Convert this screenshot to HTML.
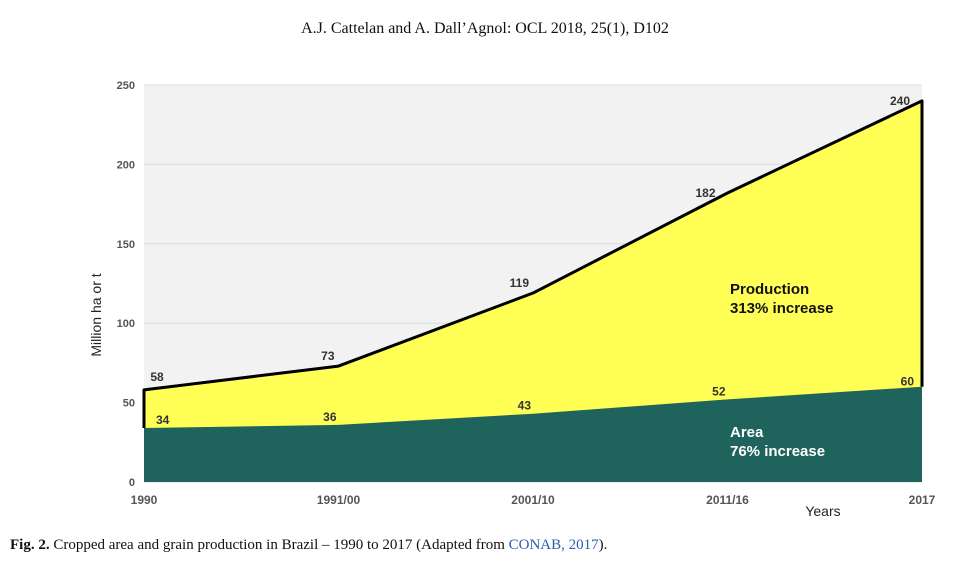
<!DOCTYPE html>
<html><head><meta charset="utf-8"><style>
body{margin:0;background:#fff;width:970px;height:563px;overflow:hidden;position:relative;font-family:"Liberation Sans",sans-serif}
.hdr{position:absolute;left:0;width:970px;text-align:center;top:20px;font:16px "Liberation Serif",serif;color:#111}
.cap{position:absolute;left:10px;top:537px;font:15px "Liberation Serif",serif;color:#111}
.cap a{color:#2a5db0;text-decoration:none}
</style></head><body>
<div class="hdr">A.J. Cattelan and A. Dall’Agnol: OCL 2018, 25(1), D102</div>
<svg id="chart" width="970" height="563" style="position:absolute;left:0;top:0"></svg>
<div class="cap"><b>Fig. 2.</b> Cropped area and grain production in Brazil – 1990 to 2017 (Adapted from <a>CONAB, 2017</a>).</div>
<script>
const categories=["1990","1991/00","2001/10","2011/16","2017"];
const production=[58,73,119,182,240];
const area=[34,36,43,52,60];
const yTicks=[0,50,100,150,200,250];
const NS="http://www.w3.org/2000/svg";
const svg=document.getElementById('chart');
const L=144,R=922,T=85,B=482,yMax=250;
const x=i=>L+(R-L)*i/(categories.length-1);
const y=v=>B-(B-T)*v/yMax;
function mk(tag,attrs,parent){const e=document.createElementNS(NS,tag);for(const k in attrs)e.setAttribute(k,attrs[k]);(parent||svg).appendChild(e);return e;}
const bg=mk('rect',{x:L,y:T,width:R-L,height:B-T,fill:'#f2f2f2'});


yTicks.forEach(t=>{
  const g=mk('line',{x1:L,x2:R,y1:y(t),y2:y(t),stroke:'#dcdcdc','stroke-width':1});
  
  
  const tl=mk('text',{x:L-9,y:y(t)+4,'text-anchor':'end','font-size':11,'font-weight':'bold',fill:'#555'});
  tl.textContent=t;
  
  
});
let pp=`M${x(0)},${B}`;production.forEach((v,i)=>pp+=` L${x(i)},${y(v)}`);pp+=` L${x(production.length-1)},${B} Z`;
const prod=mk('path',{d:pp,fill:'#ffff55'});


let ap=`M${x(0)},${B}`;area.forEach((v,i)=>ap+=` L${x(i)},${y(v)}`);ap+=` L${x(area.length-1)},${B} Z`;
const ar=mk('path',{d:ap,fill:'#1f645c'});


let lp=`M${x(0)},${y(area[0])}`;production.forEach((v,i)=>lp+=` L${x(i)},${y(v)}`);lp+=` L${x(production.length-1)},${y(area[area.length-1])}`;
const ln=mk('path',{d:lp,fill:'none',stroke:'#000','stroke-width':3,'stroke-linejoin':'round'});


production.forEach((v,i)=>{
  const n=production.length;
  let tx,ty,anc;
  if(i===0){tx=x(i)+13;ty=y(v)-9;anc='middle';}
  else if(i>=n-2){tx=x(i)-12;ty=y(v)+4;anc='end';}
  else {tx=x(i)-4;ty=y(v)-6;anc='end';}
  const t=mk('text',{x:tx,y:ty,'text-anchor':anc,'font-size':12,'font-weight':'bold',fill:'#333'});
  t.textContent=v;
  
  
});
area.forEach((v,i)=>{
  const last=i===area.length-1;
  const t=mk('text',{x:last?x(i)-8:(i===0?x(i)+12:x(i)-2),y:last?y(v)-1:y(v)-4,'text-anchor':i===0?'start':'end','font-size':12,'font-weight':'bold',fill:'#333'});
  t.textContent=v;
  
  
});
categories.forEach((c,i)=>{
  const t=mk('text',{x:x(i),y:504,'text-anchor':'middle','font-size':12,'font-weight':'bold',fill:'#555'});
  t.textContent=c;
  
  
});
function lab(txt,xx,yy,col,name){const t=mk('text',{x:xx,y:yy,'font-size':15,'font-weight':'bold',fill:col});t.textContent=txt;}
lab('Production',730,294,'#111','production-annotation');
lab('313% increase',730,313,'#111','production-increase-annotation');
lab('Area',730,437,'#fff','area-annotation');
lab('76% increase',730,456,'#fff','area-increase-annotation');
const xt=mk('text',{x:823,y:516,'text-anchor':'middle','font-size':14,fill:'#222'});xt.textContent='Years';


const yt=mk('text',{x:0,y:0,'text-anchor':'middle','font-size':14,fill:'#222',transform:'translate(101,315) rotate(-90)'});yt.textContent='Million ha or t';


</script>
</body></html>
